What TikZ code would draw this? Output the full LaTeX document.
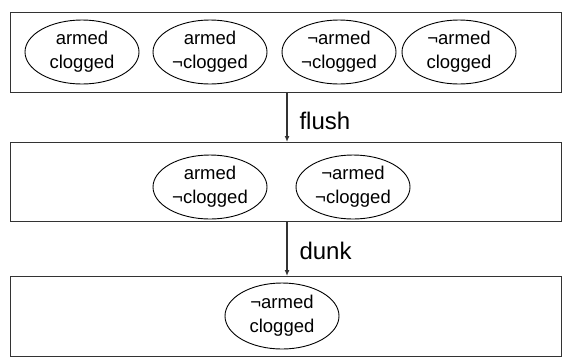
\documentclass[tikz,border=0pt]{standalone}
\usepackage{fontspec}
\setmainfont{Liberation Sans}
\usetikzlibrary{shapes.geometric,arrows.meta}
\begin{document}
\begin{tikzpicture}[x=1pt,y=-1pt,
  box/.style={draw=black!80,line width=1pt,rectangle,minimum width=551pt,inner sep=0pt},
  st/.style={draw=black,line width=0.9pt,ellipse,minimum width=114pt,minimum height=64pt,inner sep=0pt,align=center,
    font=\fontsize{18.5}{24}\selectfont},
  lbl/.style={font=\fontsize{24}{28}\selectfont,anchor=west},
  arr/.style={draw=black!80,line width=1.2pt,-{Latex[length=6pt,width=5pt]}}]
\useasboundingbox (0,0) rectangle (564,360);
\node[box,minimum height=80pt] (b1) at (285.5,52.5) {};
\node[box,minimum height=79pt] (b2) at (285.5,181.5) {};
\node[box,minimum height=80pt] (b3) at (285.5,316) {};
\node[st] (s1) at (82,52) {armed\\clogged};
\node[st] (s2) at (210,52) {armed\\¬clogged};
\node[st] (s3) at (339,52) {¬armed\\¬clogged};
\node[st] (s4) at (459,52) {¬armed\\clogged};
\node[st] (s5) at (210,187) {armed\\¬clogged};
\node[st] (s6) at (353,187) {¬armed\\¬clogged};
\node[st,minimum height=66pt] (s7) at (282,316) {¬armed\\clogged};
\coordinate (a1s) at (287,92.5);
\coordinate (a1e) at (287,142);
\coordinate (a2s) at (287,221);
\coordinate (a2e) at (287,276);
\draw[arr] (a1s) -- (a1e);
\draw[arr] (a2s) -- (a2e);
\node[lbl] (l1) at (296,121) {flush};
\node[lbl] (l2) at (296,251) {dunk};
\end{tikzpicture}
\end{document}
